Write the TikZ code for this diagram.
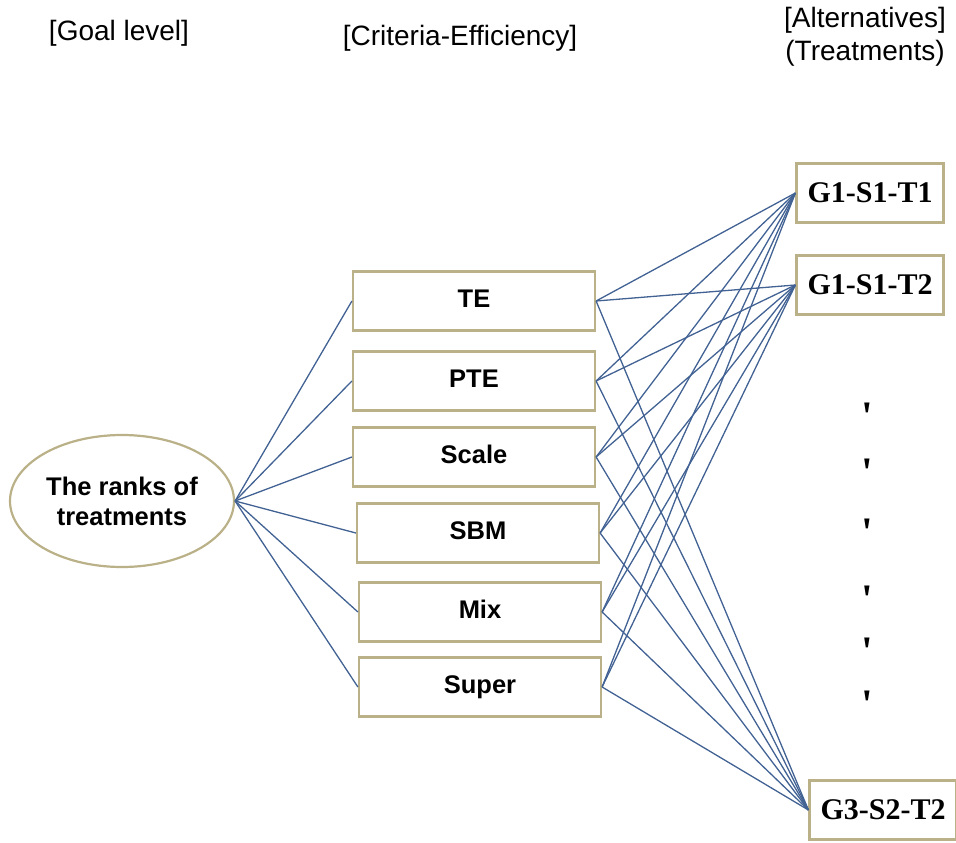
\documentclass[tikz,border=0pt]{standalone}
\usepackage{fontspec}
\setmainfont{Liberation Sans}
\newfontfamily\altfont{Liberation Serif}
\usetikzlibrary{shapes.geometric}
\definecolor{boxline}{RGB}{186,177,136}
\definecolor{linkblue}{RGB}{66,98,148}
\begin{document}
\begin{tikzpicture}[x=1pt,y=-1pt,
  head/.style={font=\fontsize{28}{33}\selectfont},
  crit/.style={draw=boxline,line width=2.2pt,fill=white,minimum width=242pt,minimum height=59pt,
    text height=18.5pt,text depth=6pt,font=\fontsize{25.5}{30}\selectfont\bfseries},
  alt/.style={draw=boxline,line width=2.2pt,fill=white,minimum width=147pt,minimum height=59pt,
    inner sep=0pt,font=\altfont\fontsize{30}{34}\selectfont\bfseries},
  tick/.style={anchor=base,inner sep=0pt,font=\altfont\fontsize{42}{46}\selectfont\bfseries},
  link/.style={draw=linkblue,line width=1.3pt}]
\useasboundingbox (0,0) rectangle (956,843);

% level headings
\node[head,anchor=base] (hgoal) at (119,41) {[Goal level]};
\node[head,anchor=base] (hcrit) at (460,46) {[Criteria-Efficiency]};
\node[head,align=center] (halt)  at (865,37) {[Alternatives]\\(Treatments)};

% goal
\node[draw=boxline,line width=2.2pt,ellipse,minimum width=224pt,minimum height=132pt,inner sep=0pt,
  align=center,font=\fontsize{25.5}{30}\selectfont\bfseries] (goal) at (122,501) {The ranks of\\treatments};

% criteria
\node[crit] (te)    at (474,301) {TE};
\node[crit] (pte)   at (474,381) {PTE};
\node[crit] (scale) at (474,457) {Scale};
\node[crit] (sbm)   at (478,533) {SBM};
\node[crit] (mix)   at (480,612) {Mix};
\node[crit] (super) at (480,687) {Super};

% alternatives
\node[alt] (t1) at (870,193) {G1-S1-T1};
\node[alt] (t2) at (870,285) {G1-S1-T2};
\node[alt] (t9) at (883,810) {G3-S2-T2};

\foreach \y [count=\i] in {407,463,523,590,642,695}
  \node[tick] (gap\i) at (867,\y+23) {\symbol{39}};

% links
\foreach \c in {te,pte,scale,sbm,mix,super} {
  \draw[link] (goal.east) -- (\c.west);
  \foreach \a in {t1,t2,t9}
    \draw[link] (\c.east) -- (\a.west);
}
\end{tikzpicture}
\end{document}
